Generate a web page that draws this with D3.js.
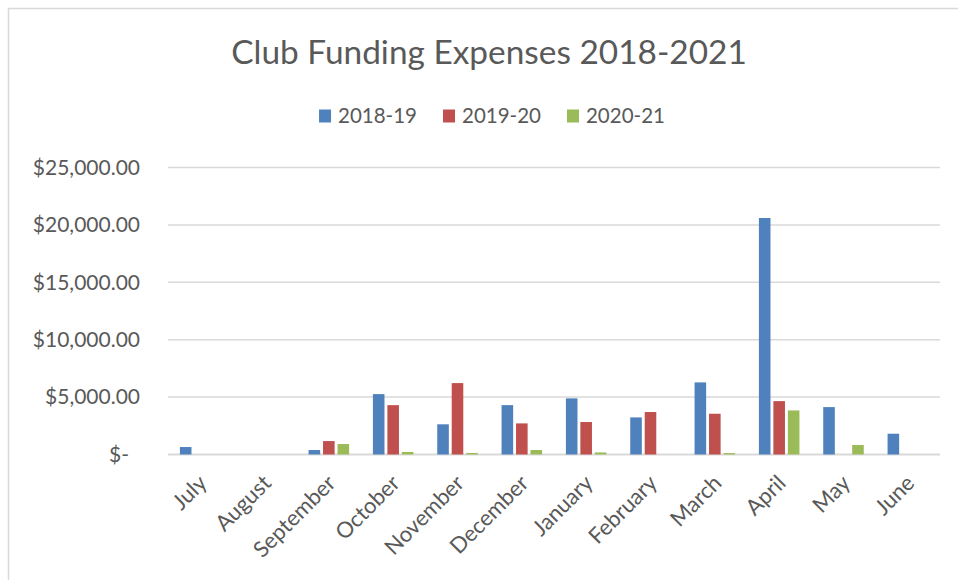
<!doctype html>
<html lang="en">
<head>
    <meta charset="utf-8">
    <title>Club Funding Expenses 2018-2021</title>
    <script src="https://d3js.org/d3.v7.min.js"></script>
    <style>
        body { margin: 0; background: #fff; }
        svg text { font-family: Lato, "Open Sans", sans-serif; fill: #595959; }
    </style>
</head>
<body>
<svg id="chart" width="958" height="580"></svg>
<script>
    const months = ["July", "August", "September", "October", "November", "December",
        "January", "February", "March", "April", "May", "June"];
    const seriesNames = ["2018-19", "2019-20", "2020-21"];
    const colors = ["#4F81BD", "#C0504D", "#9BBB59"];

    // monthly expenses
    const fy1819 = [650, 0, 390, 5260, 2630, 4300, 4890, 3230, 6280, 20600, 4130, 1810];
    const fy1920 = [0, 0, 1170, 4300, 6220, 2710, 2830, 3700, 3550, 4650, 0, 0];
    const fy2021 = [0, 0, 910, 220, 130, 390, 180, 0, 120, 3840, 830, 0];

    const yTicks = [0, 5000, 10000, 15000, 20000, 25000];

    const svg = d3.select('#chart')

    // outer chart frame
    svg.append('rect')
        .attr('x', 8.5).attr('y', 8.5)
        .attr('width', 1000).attr('height', 640)
        .attr('fill', '#fff')
        .attr('stroke', '#D9D9D9')
        .attr('stroke-width', 1.5)

    const plot = {left: 168, right: 940, top: 167.5, bottom: 454.5}

    const x0 = d3.scaleBand()
        .domain(months)
        .range([plot.left, plot.right])
        .paddingInner(0.37)
        .paddingOuter(0.185)

    const x1 = d3.scaleBand()
        .domain(seriesNames)
        .range([0, x0.bandwidth()])
        .paddingInner(0.2)

    const y = d3.scaleLinear()
        .domain([0, 25000])
        .range([plot.bottom, plot.top])

    // gridlines
    svg.append('g')
        .selectAll('line')
        .data(yTicks)
        .join('line')
        .attr('x1', plot.left).attr('x2', plot.right)
        .attr('y1', d => y(d)).attr('y2', d => y(d))
        .attr('stroke', '#D9D9D9')
        .attr('stroke-width', d => d === 0 ? 2 : 1.5)

    // y axis labels
    const fmt = d3.format('$,.2f')
    const yAxis = svg.append('g')
        .attr('transform', `translate(${plot.left - 28},0)`)
        .call(d3.axisLeft(y).tickValues(yTicks).tickSize(0).tickPadding(0)
            .tickFormat(d => d === 0 ? '$-' : fmt(d)))
    yAxis.select('.domain').remove()
    yAxis.selectAll('text')
        .attr('font-size', 21)
        .attr('dx', d => d === 0 ? -11 : 0)

    // bars
    const series = [fy1819, fy1920, fy2021]
    const rows = []
    series.forEach((vals, s) => {
        vals.forEach((v, i) => rows.push({month: months[i], name: seriesNames[s], value: v, s: s}))
    })

    svg.append('g')
        .selectAll('rect')
        .data(rows.filter(d => d.value > 0))
        .join('rect')
        .attr('x', d => x0(d.month) + x1(d.name))
        .attr('width', x1.bandwidth())
        .attr('y', d => y(d.value))
        .attr('height', d => y(0) - y(d.value))
        .attr('fill', d => colors[d.s])

    // x axis labels, rotated
    svg.append('g')
        .selectAll('text')
        .data(months)
        .join('text')
        .attr('text-anchor', 'end')
        .attr('font-size', 22)
        .attr('transform', d => {
            const cx = x0(d) + x0.bandwidth() / 2 + 8
            return `translate(${cx},${plot.bottom + 30}) rotate(-45)`
        })
        .text(d => d)

    // title
    svg.append('text')
        .attr('x', 489).attr('y', 64)
        .attr('text-anchor', 'middle')
        .attr('font-size', 33.4)
        .text('Club Funding Expenses 2018-2021')

    // legend, centred under the title
    const legend = svg.append('g')
    const items = legend.selectAll('g')
        .data(seriesNames)
        .join('g')
    items.append('rect')
        .attr('width', 12).attr('height', 13)
        .attr('y', -13.5)
        .attr('fill', (d, i) => colors[i])
    items.append('text')
        .attr('x', 19)
        .attr('font-size', 20.5)
        .text(d => d)

    let offset = 0
    items.each(function() {
        const w = 19 + d3.select(this).select('text').node().getComputedTextLength()
        d3.select(this).attr('transform', `translate(${offset},123)`)
        offset += w + 26
    })
    offset -= 26
    legend.attr('transform', `translate(${492 - offset / 2},0)`)
</script>
</body>
</html>
